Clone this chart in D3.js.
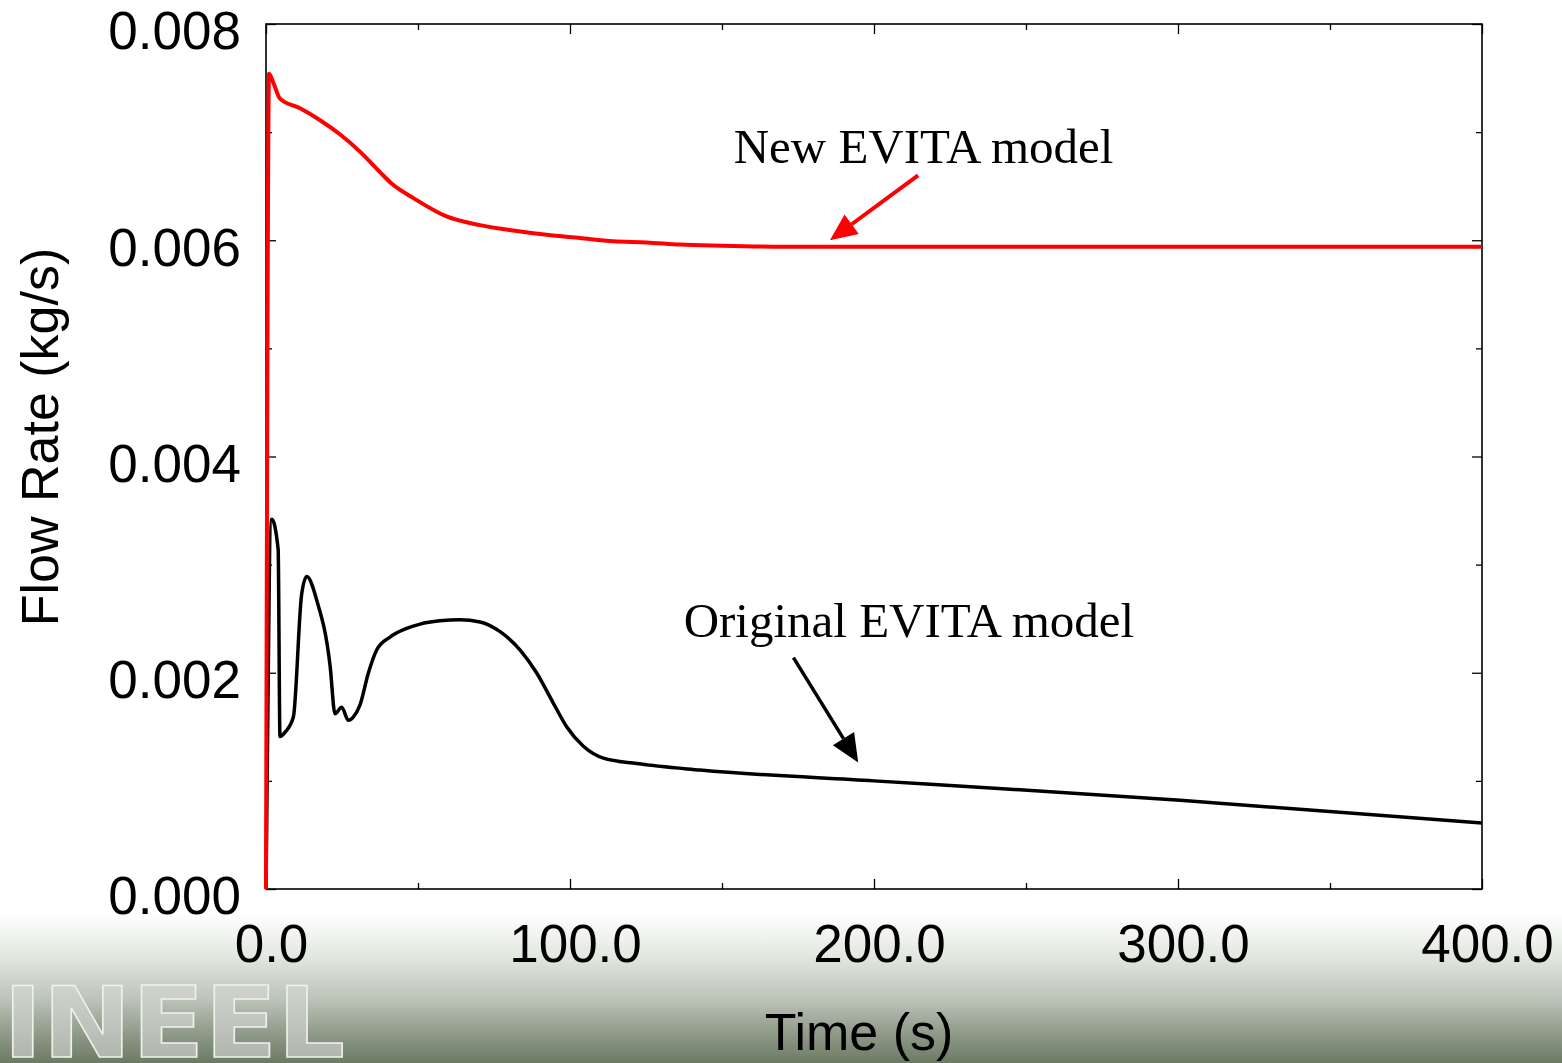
<!DOCTYPE html>
<html>
<head>
<meta charset="utf-8">
<script src="https://cdn.jsdelivr.net/npm/d3@7"></script>
<style>
  body { margin: 0; background: #fff; }
  svg text { font-family: "Liberation Sans", Arial, sans-serif; }
</style>
</head>
<body>
<div id="chart"></div>
<script>
// time (s) and flow rate (kg/s)
const newTime = [0, 1.0, 2.5, 4.6, 11.2, 17.8, 24.3, 30.9, 37.5, 41.5, 48.5, 59.4, 70.4, 81.3, 92.3, 103.3, 114.2, 125.2, 136.2, 150, 175, 250, 320, 400];
const newFlow = [0, 0.00754, 0.00745, 0.00731, 0.00722, 0.00711, 0.00698, 0.00682, 0.00663, 0.00652, 0.00639, 0.00622, 0.00614, 0.00609, 0.00605, 0.00602, 0.00599, 0.00598, 0.00596, 0.00595, 0.00594, 0.00594, 0.00594, 0.00594];

const origTime = [0, 1.9, 4.0, 4.6, 6.25, 9.0, 11.7, 13.4, 16.7, 21.1, 22.7, 24.9, 27.1, 28.7, 30.9, 33.7, 36.4, 40.8, 46.3, 50.7, 57.2, 63.8, 70.4, 77, 83.6, 89, 94.5, 98.9, 104.4, 111, 122, 142.8, 200, 241, 300.7, 400];
const origFlow = [0, 0.00342, 0.00314, 0.00141, 0.00145, 0.00159, 0.00272, 0.00289, 0.00267, 0.00206, 0.00162, 0.00168, 0.00156, 0.00159, 0.0017, 0.002, 0.00221, 0.00233, 0.00241, 0.00245, 0.00248, 0.00249, 0.00247, 0.00238, 0.00221, 0.002, 0.00172, 0.0015, 0.00132, 0.00121, 0.00116, 0.0011, 0.001, 0.00093, 0.00082, 0.00061];

const xTicks = [0, 100, 200, 300, 400];
const xMinor = [50, 150, 250, 350];
const yTicks = [0, 0.002, 0.004, 0.006, 0.008];
const yMinor = [0.001, 0.003, 0.005, 0.007];

const seriesNames = ["New EVITA model", "Original EVITA model"];

const W = 1562, H = 1063;
const margin = {top: 24, right: 80, bottom: 174, left: 266};
const width = W - margin.left - margin.right;
const height = H - margin.top - margin.bottom;

const svg = d3.select("#chart").append("svg")
    .attr("width", W)
    .attr("height", H);

// background with the greenish fade at the bottom
const defs = svg.append("defs");
const bg = defs.append("linearGradient").attr("id", "bg")
    .attr("x1", 0).attr("y1", 0).attr("x2", 0).attr("y2", 1);
bg.append("stop").attr("offset", 0.86).attr("stop-color", "#ffffff");
bg.append("stop").attr("offset", 0.9).attr("stop-color", "#e2e7df");
bg.append("stop").attr("offset", 0.94).attr("stop-color", "#bcc3b8");
bg.append("stop").attr("offset", 0.97).attr("stop-color", "#929d8c");
bg.append("stop").attr("offset", 1).attr("stop-color", "#6c7a64");

const logoFill = defs.append("linearGradient").attr("id", "logo")
    .attr("x1", 0).attr("y1", 0).attr("x2", 0).attr("y2", 1);
logoFill.append("stop").attr("offset", 0).attr("stop-color", "#d9dcd6");
logoFill.append("stop").attr("offset", 1).attr("stop-color", "#a7ada3");

svg.append("rect").attr("width", W).attr("height", H).attr("fill", "url(#bg)");

// INEEL logo
svg.append("text")
    .attr("x", 3)
    .attr("y", 1057)
    .attr("textLength", 342)
    .attr("lengthAdjust", "spacingAndGlyphs")
    .style("font-family", "'DejaVu Sans', sans-serif")
    .style("font-weight", "bold")
    .style("font-size", "98px")
    .attr("fill", "url(#logo)")
    .attr("stroke", "#eef0ec")
    .attr("stroke-width", 1.5)
    .text("INEEL");

const g = svg.append("g")
    .attr("transform", `translate(${margin.left},${margin.top})`);

g.append("rect")
    .attr("width", width).attr("height", height)
    .attr("fill", "#fff");

const x = d3.scaleLinear().domain([0, 400]).range([0, width]);
const y = d3.scaleLinear().domain([0, 0.008]).range([height, 0]);

// main axes (ticks point inward)
const xAxis = g.append("g")
    .attr("transform", `translate(0,${height})`)
    .call(d3.axisBottom(x).tickValues(xTicks).tickFormat(d3.format(".1f")).tickSize(-10).tickPadding(35));
xAxis.selectAll("text").attr("dx", 5);

const yAxis = g.append("g")
    .call(d3.axisLeft(y).tickValues(yTicks).tickFormat(d3.format(".3f")).tickSize(-10).tickPadding(25));
yAxis.selectAll("text").attr("dy", "0.47em");

[xAxis, yAxis].forEach(a => {
    a.selectAll("text").style("font-size", "53px").attr("fill", "#000");
    a.select(".domain").remove();
    a.selectAll(".tick line").attr("stroke", "#000").attr("stroke-width", 1.3);
});

// mirror axes and minor ticks
const noLabel = () => "";
g.append("g").call(d3.axisTop(x).tickValues(xTicks).tickFormat(noLabel).tickSize(-10));
g.append("g").attr("transform", `translate(${width},0)`)
    .call(d3.axisRight(y).tickValues(yTicks).tickFormat(noLabel).tickSize(-10));
g.append("g").attr("transform", `translate(0,${height})`)
    .call(d3.axisBottom(x).tickValues(xMinor).tickFormat(noLabel).tickSize(-6));
g.append("g").call(d3.axisTop(x).tickValues(xMinor).tickFormat(noLabel).tickSize(-6));
g.append("g").call(d3.axisLeft(y).tickValues(yMinor).tickFormat(noLabel).tickSize(-6));
g.append("g").attr("transform", `translate(${width},0)`)
    .call(d3.axisRight(y).tickValues(yMinor).tickFormat(noLabel).tickSize(-6));
g.selectAll(".domain").remove();
g.selectAll(".tick line").attr("stroke", "#000").attr("stroke-width", 1.3);

// frame
g.append("rect")
    .attr("width", width).attr("height", height)
    .attr("fill", "none")
    .attr("stroke", "#000")
    .attr("stroke-width", 1.6);

// curves
const line = d3.line()
    .x(d => x(d[0]))
    .y(d => y(d[1]))
    .curve(d3.curveMonotoneX);

g.append("path")
    .datum(origTime.map((t, i) => [t, origFlow[i]]))
    .attr("fill", "none")
    .attr("stroke", "#000")
    .attr("stroke-width", 3.5)
    .attr("stroke-linejoin", "round")
    .attr("d", line);

g.append("path")
    .datum(newTime.map((t, i) => [t, newFlow[i]]))
    .attr("fill", "none")
    .attr("stroke", "#ff0000")
    .attr("stroke-width", 4)
    .attr("stroke-linejoin", "round")
    .attr("d", line);

// annotations with arrows
function arrow(x1, y1, x2, y2, color, w, headLen, headW) {
    const ang = Math.atan2(y2 - y1, x2 - x1);
    const bx = x2 - headLen * Math.cos(ang), by = y2 - headLen * Math.sin(ang);
    const px = -Math.sin(ang) * headW / 2, py = Math.cos(ang) * headW / 2;
    g.append("line")
        .attr("x1", x1).attr("y1", y1).attr("x2", bx).attr("y2", by)
        .attr("stroke", color).attr("stroke-width", w);
    g.append("path")
        .attr("d", `M${x2},${y2}L${bx + px},${by + py}L${bx - px},${by - py}Z`)
        .attr("fill", color);
}

g.append("text")
    .attr("x", x(216.3)).attr("y", y(0.00671))
    .attr("text-anchor", "middle")
    .style("font-family", "'Liberation Serif', 'Times New Roman', serif")
    .style("font-size", "49px")
    .text(seriesNames[0]);
arrow(x(214.5), y(0.00660), x(185.5), y(0.00600), "#ff0000", 4, 27, 24);

g.append("text")
    .attr("x", x(211.5)).attr("y", y(0.00233))
    .attr("text-anchor", "middle")
    .style("font-family", "'Liberation Serif', 'Times New Roman', serif")
    .style("font-size", "49px")
    .text(seriesNames[1]);
arrow(x(173.5), y(0.00214), x(194.8), y(0.00117), "#000", 3.5, 28, 25);

// axis titles
svg.append("text")
    .attr("transform", "translate(58,437) rotate(-90)")
    .attr("text-anchor", "middle")
    .style("font-size", "52px")
    .text("Flow Rate (kg/s)");

svg.append("text")
    .attr("x", 859).attr("y", 1050)
    .attr("text-anchor", "middle")
    .style("font-size", "52px")
    .text("Time (s)");
</script>
</body>
</html>
